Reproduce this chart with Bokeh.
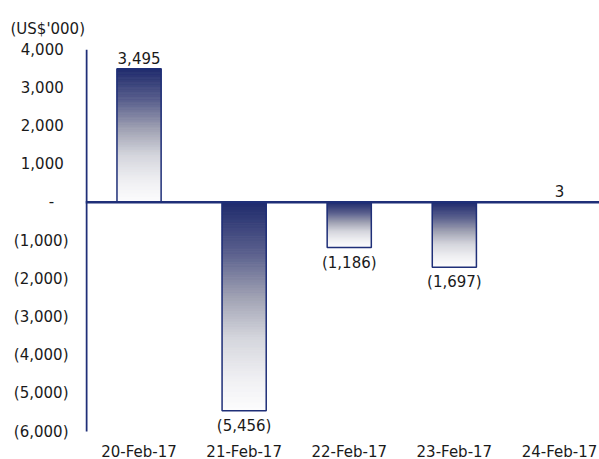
from bokeh.plotting import figure
from bokeh.models import Range1d, FixedTicker, CustomJSTickFormatter, Span, ColumnDataSource
from bokeh.embed import file_html
from bokeh.resources import INLINE
from bokeh.core.properties import value

# ---- data ----
categories = ["20-Feb-17", "21-Feb-17", "22-Feb-17", "23-Feb-17", "24-Feb-17"]
values = [3495, -5456, -1186, -1697, 3]
value_labels = ["3,495", "(5,456)", "(1,186)", "(1,697)", "3"]
y_ticks = [-6000, -5000, -4000, -3000, -2000, -1000, 0, 1000, 2000, 3000, 4000]
y_unit = "(US$'000)"

# ---- style ----
NAVY = "#1f2f78"
TEXT = "#1a1a1a"
FONT = "DejaVu Sans"
FS = "15px"
BAR_W = 0.42
N_STRIPS = 80
AXIS_PX = 382      # pixel height of the -6000..4000 span
BOTTOM_PX = 28     # room below -6000 for category labels
# gradient stops (fraction from dark end, rgb)
stops = [(0.0, (30, 42, 108)), (0.25, (92, 97, 142)), (0.45, (158, 160, 178)),
         (0.65, (212, 213, 220)), (0.85, (240, 240, 243)), (1.0, (252, 252, 253))]


def grad(t):
    for (t0, c0), (t1, c1) in zip(stops[:-1], stops[1:]):
        if t <= t1:
            f = (t - t0) / (t1 - t0)
            r, g, b = (round(a + (bb - a) * f) for a, bb in zip(c0, c1))
            return "#%02x%02x%02x" % (r, g, b)
    return "#%02x%02x%02x" % stops[-1][1]


xs = [i + 0.5 for i in range(len(categories))]

# gradient strips derived from the values
L, R, T, B, C = [], [], [], [], []
for x, v in zip(xs, values):
    dark, light = max(v, 0), min(v, 0)
    for k in range(N_STRIPS):
        ya = dark + (light - dark) * k / N_STRIPS
        yb = dark + (light - dark) * (k + 1) / N_STRIPS
        L.append(x - BAR_W / 2); R.append(x + BAR_W / 2)
        T.append(max(ya, yb)); B.append(min(ya, yb))
        C.append(grad((k + 0.5) / N_STRIPS))
strips = ColumnDataSource(dict(left=L, right=R, top=T, bottom=B, color=C))

bars = ColumnDataSource(dict(x=xs, val=values, zero=[0] * len(values),
                             left=[x - BAR_W / 2 for x in xs], right=[x + BAR_W / 2 for x in xs]))

y_span = y_ticks[-1] - y_ticks[0]
y_bottom = y_ticks[0] - y_span * BOTTOM_PX / AXIS_PX
px_per_cat = 105.1
p = figure(width=599, height=459, output_backend="svg", toolbar_location=None,
           x_range=Range1d(-1 / px_per_cat, (599 - 86) / px_per_cat),
           y_range=Range1d(y_bottom, y_ticks[-1]),
           min_border_left=85, min_border_right=0, min_border_top=49, min_border_bottom=0)
p.outline_line_color = None
p.grid.grid_line_color = None
p.background_fill_color = "white"
p.border_fill_color = "white"

p.quad(left="left", right="right", top="top", bottom="bottom", fill_color="color",
       line_color="color", line_width=1, source=strips)
p.quad(left="left", right="right", top="val", bottom="zero", fill_color=None,
       line_color=NAVY, line_width=1.5, source=bars)

# value axis line (from lowest to highest tick) and zero line
p.segment(x0=[0], x1=[0], y0=[y_ticks[0]], y1=[y_ticks[-1]], line_color=NAVY, line_width=2)
p.add_layout(Span(location=0, dimension="width", line_color=NAVY, line_width=2.5))

# data labels
pos = [i for i, v in enumerate(values) if v >= 0]
neg = [i for i, v in enumerate(values) if v < 0]
p.text(x=[xs[i] for i in pos], y=[values[i] for i in pos], text=[value_labels[i] for i in pos],
       text_align="center", text_baseline="middle", y_offset=-11,
       text_font=value(FONT), text_font_size=FS, text_color=TEXT)
p.text(x=[xs[i] for i in neg], y=[values[i] for i in neg], text=[value_labels[i] for i in neg],
       text_align="center", text_baseline="middle", y_offset=15,
       text_font=value(FONT), text_font_size=FS, text_color=TEXT)

# category labels under the lowest tick
p.text(x=xs, y=[y_ticks[0]] * len(xs), text=categories, text_align="center",
       text_baseline="middle", y_offset=20,
       text_font=value(FONT), text_font_size=FS, text_color=TEXT)
p.xaxis.visible = False

# y axis
ya = p.yaxis[0]
ya.ticker = FixedTicker(ticks=y_ticks)
ya.formatter = CustomJSTickFormatter(code="""
const v = Math.round(tick);
if (v === 0) return "-\\u00a0\\u00a0\\u00a0";
const s = Math.abs(v).toLocaleString('en-US');
return v < 0 ? "(" + s + ")" : s + "\\u00a0";
""")
ya.axis_line_color = None
ya.major_tick_line_color = None
ya.minor_tick_line_color = None
ya.major_tick_out = 0
ya.major_tick_in = 0
ya.major_label_standoff = 17
ya.major_label_text_font = FONT
ya.major_label_text_font_size = FS
ya.major_label_text_color = TEXT

# unit label
p.title.text = y_unit
p.title.align = "left"
p.title.offset = -75
p.title.text_font = FONT
p.title.text_font_size = FS
p.title.text_font_style = "normal"
p.title.text_color = TEXT
p.title.vertical_align = "top"
p.title.standoff = 20

open("out.html", "w").write(file_html(p, INLINE))
